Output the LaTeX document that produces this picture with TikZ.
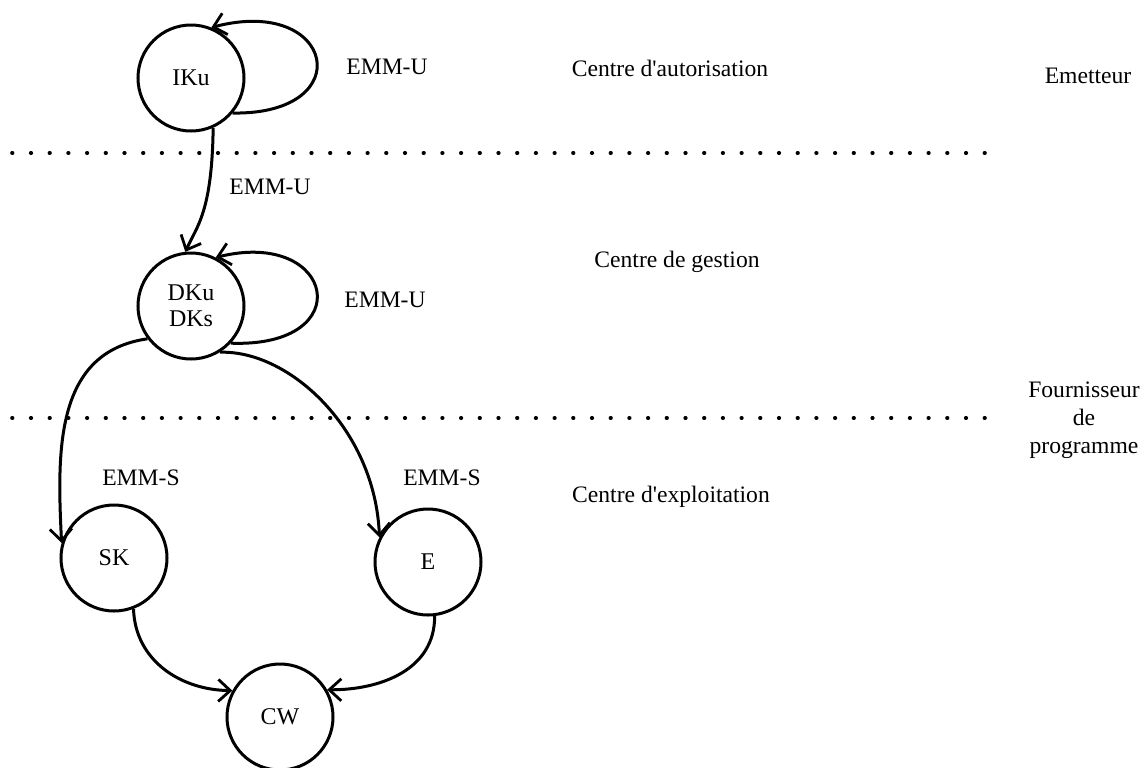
\documentclass[tikz,border=0pt]{standalone}
\usepackage{fontspec}
\setmainfont{Liberation Serif}
\usetikzlibrary{arrows.meta}
\begin{document}
\begin{tikzpicture}[x=0.5pt,y=-0.5pt,
  state/.style={circle,draw,line width=1.5pt,minimum size=53pt,inner sep=0pt,align=center,font=\fontsize{12}{13}\selectfont},
  conn/.style={line width=1.5pt,-{Straight Barb[length=6pt,width=11pt,line width=1.4pt]}},
  lbl/.style={font=\fontsize{11.8}{14}\selectfont,align=center,inner sep=0pt},
  sep/.style={line width=1.8pt,line cap=round,dash pattern=on 0.3pt off 9.05pt}]
\useasboundingbox (0,0) rectangle (1147,767);
% separators
\coordinate (s1a) at (12,153); \coordinate (s1b) at (985,153);
\coordinate (s2a) at (12,418); \coordinate (s2b) at (985,418);
\draw[sep] (s1a) -- (s1b);
\draw[sep] (s2a) -- (s2b);
% states
\node[state] (IKu) at (191,78) {IKu};
\node[state] (DKu) at (191,306) {DKu\\DKs};
\node[state] (SK) at (114,558) {SK};
\node[state] (E) at (428,562) {E};
\node[state] (CW) at (280,717) {CW};
% connectors
\draw[conn] (IKu.-40) .. controls (360,115) and (335,-5) .. (IKu.68);
\draw[conn] (IKu.-66) .. controls (212,212) and (197,226) .. (DKu.96);
\draw[conn] (DKu.-43) .. controls (360,348) and (335,228) .. (DKu.63);
\draw[conn] (DKu.217) .. controls (55,352) and (57,450) .. (SK.164);
\draw[conn] (DKu.-58) .. controls (290,350) and (375,430) .. (E.153);
\draw[conn] (SK.-69) .. controls (135,660) and (180,690) .. (CW.151);
\draw[conn] (E.-83) .. controls (435,670) and (380,690) .. (CW.30);
% labels
\node[lbl] (l1) at (387,67) {EMM-U};
\node[lbl] (l2) at (270,187) {EMM-U};
\node[lbl] (l3) at (385,300) {EMM-U};
\node[lbl] (l4) at (141,478) {EMM-S};
\node[lbl] (l5) at (442,478) {EMM-S};
\node[lbl] (c1) at (670,68) {Centre d\textquotesingle autorisation};
\node[lbl] (c2) at (677,262) {Centre de gestion};
\node[lbl] (c3) at (671,497) {Centre d\textquotesingle exploitation};
\node[lbl] (r1) at (1088,76) {Emetteur};
\node[lbl] (r2) at (1084,420) {Fournisseur\\de\\programme};
\end{tikzpicture}
\end{document}
